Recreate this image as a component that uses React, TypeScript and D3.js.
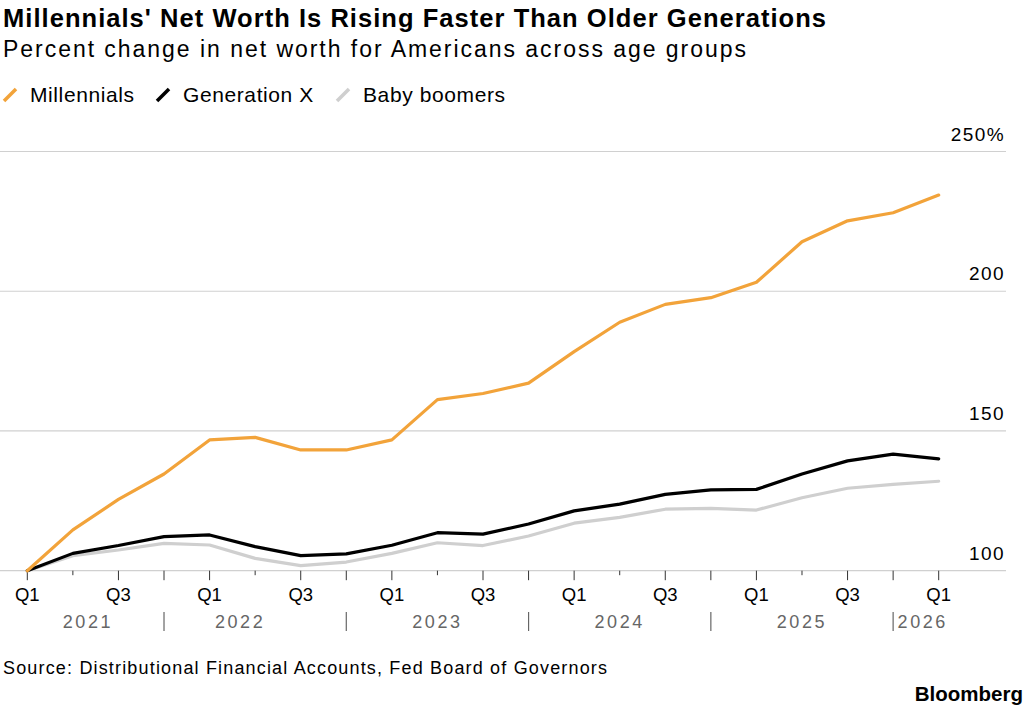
import React from "react";
import * as d3 from "d3";

// quarters from 2021 Q1 to 2026 Q1
const quarters = [
  "Q1", "Q2", "Q3", "Q4",
  "Q1", "Q2", "Q3", "Q4",
  "Q1", "Q2", "Q3", "Q4",
  "Q1", "Q2", "Q3", "Q4",
  "Q1", "Q2", "Q3", "Q4",
  "Q1",
];

const millennials = [
  100, 114.6, 125.5, 134.6, 146.8, 147.7, 143.2, 143.2, 146.8, 161.2, 163.4,
  167.1, 178.4, 188.9, 195.3, 197.7, 203.2, 217.7, 225.2, 228.1, 234.4,
];
const genX = [
  100, 106.2, 109.0, 112.2, 112.8, 108.6, 105.4, 106.0, 109.1, 113.6, 113.1,
  116.7, 121.4, 123.8, 127.3, 128.9, 129.1, 134.6, 139.3, 141.7, 140.0,
];
const boomers = [
  100, 105.4, 107.4, 109.8, 109.2, 104.4, 101.8, 103.1, 106.2, 110.0, 109.0,
  112.4, 117.0, 119.1, 122.0, 122.3, 121.7, 126.1, 129.5, 130.9, 132.0,
];

const yTicks = [100, 150, 200, 250];
const years = ["2021", "2022", "2023", "2024", "2025", "2026"];
// where each year label sits, in quarter-index units
const yearPos = [1.33, 4.67, 9.0, 13.0, 17.0, 19.65];
// year separators sit on the Q4 ticks
const yearBreaks = [3, 7, 11, 15, 19];

const series = [
  { name: "Millennials", values: millennials, color: "#f2a33a" },
  { name: "Generation X", values: genX, color: "#000000" },
  { name: "Baby boomers", values: boomers, color: "#cfcfcf" },
];
const legendX = [[2, 30], [155, 183], [335, 363]];

const W = 1024;
const H = 711;
const FONT = "'Liberation Sans', Arial, Helvetica, sans-serif";

export default function App() {
  const x = d3.scaleLinear().domain([0, quarters.length - 1]).range([27.3, 938.7]);
  const y = d3.scaleLinear().domain([100, 250]).range([570.7, 151.5]);

  const line = d3
    .line<number>()
    .x((_, i) => x(i))
    .y((d) => y(d));

  // draw back to front: boomers, gen X, millennials
  const drawOrder = [...series].reverse();

  return (
    <div style={{ position: "absolute", left: 0, top: 0 }}>
      <svg width={W} height={H} style={{ display: "block", background: "#fff" }} fontFamily={FONT}>
        <text x={3} y={27} fontSize={25.5} fontWeight="bold" fill="#000" textLength={823} lengthAdjust="spacing">
          Millennials' Net Worth Is Rising Faster Than Older Generations
        </text>
        <text x={3} y={57} fontSize={23} fill="#000" textLength={743} lengthAdjust="spacing">
          Percent change in net worth for Americans across age groups
        </text>

        {series.map((s, i) => (
          <g key={s.name}>
            <line
              x1={legendX[i][0] + 2}
              y1={101}
              x2={legendX[i][0] + 14}
              y2={89}
              stroke={s.color}
              strokeWidth={3.5}
            />
            <text x={legendX[i][1]} y={102} fontSize={21} letterSpacing={0.6} fill="#000">
              {s.name}
            </text>
          </g>
        ))}

        {yTicks.map((t) => (
          <g key={t}>
            <line x1={0} x2={1006} y1={y(t)} y2={y(t)} stroke="#d0d0d0" strokeWidth={1.2} />
            <text x={1005} y={y(t) - 11} fontSize={19} letterSpacing={1.4} textAnchor="end" fill="#000">
              {t}
              {t === 250 && <tspan>%</tspan>}
            </text>
          </g>
        ))}

        {quarters.map((q, i) => {
          const long = q !== "Q2";
          return (
            <g key={i}>
              <line
                x1={x(i)}
                x2={x(i)}
                y1={y(100)}
                y2={y(100) + (long ? 9.5 : 4.5)}
                stroke="#333"
                strokeWidth={1}
              />
              {(q === "Q1" || q === "Q3") && (
                <text x={x(i)} y={601} fontSize={18.5} textAnchor="middle" fill="#000">
                  {q}
                </text>
              )}
            </g>
          );
        })}

        {yearBreaks.map((b) => (
          <line key={b} x1={x(b)} x2={x(b)} y1={612} y2={631} stroke="#666" strokeWidth={1.2} />
        ))}
        {years.map((yr, i) => (
          <text
            key={yr}
            x={x(yearPos[i])}
            y={628}
            fontSize={18}
            letterSpacing={2.6}
            textAnchor="middle"
            fill="#666"
          >
            {yr}
          </text>
        ))}

        {drawOrder.map((s) => (
          <path
            key={s.name}
            d={line(s.values) || ""}
            fill="none"
            stroke={s.color}
            strokeWidth={3.2}
            strokeLinejoin="round"
            strokeLinecap="round"
          />
        ))}

        <text x={3} y={674} fontSize={18} fill="#000" textLength={604} lengthAdjust="spacing">
          Source: Distributional Financial Accounts, Fed Board of Governors
        </text>
        <text x={1023} y={701} fontSize={20.5} fontWeight="bold" textAnchor="end" fill="#000">
          Bloomberg
        </text>
      </svg>
    </div>
  );
}
